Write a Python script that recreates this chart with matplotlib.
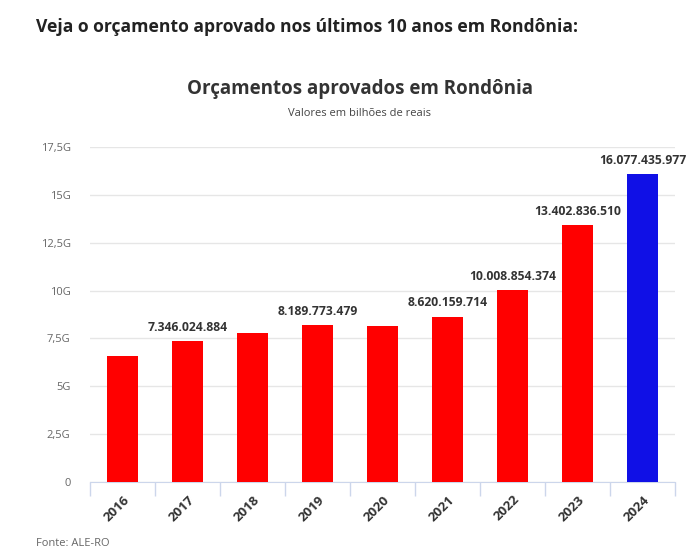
import matplotlib.pyplot as plt
import numpy as np

plt.rcParams['font.family'] = ['Open Sans', 'DejaVu Sans']

# dados (bilhões de reais)
anos = ['2016', '2017', '2018', '2019', '2020', '2021', '2022', '2023', '2024']
valores = [6.58, 7.346024884, 7.78, 8.189773479, 8.16, 8.620159714,
           10.008854374, 13.402836510, 16.077435977]
rotulos = ['', '7.346.024.884', '', '8.189.773.479', '', '8.620.159.714',
           '10.008.854.374', '13.402.836.510', '16.077.435.977']
cores = ['#ff0000'] * 8 + ['#1010e6']
yticks = [0, 2.5, 5, 7.5, 10, 12.5, 15, 17.5]
ytick_labels = ['0', '2,5G', '5G', '7,5G', '10G', '12,5G', '15G', '17,5G']

fig = plt.figure(figsize=(6.91, 5.5), dpi=100)
ax = fig.add_axes([90 / 691, 68 / 550, 585 / 691, 335 / 550])

x = np.arange(len(anos))
ax.bar(x, valores, width=0.48, color=cores, zorder=3)

for xi, v, r in zip(x, valores, rotulos):
    if r:
        ax.text(xi, v + 0.4, r, ha='center', va='bottom', fontsize=8.7,
                fontweight='bold', color='#333333', zorder=4)

ax.set_xlim(-0.5, len(anos) - 0.5)
ax.set_ylim(0, 17.5)
ax.set_yticks(yticks)
ax.set_yticklabels(ytick_labels, color='#666666', fontsize=8)
ax.tick_params(axis='y', length=0, pad=14)
ax.yaxis.grid(True, color='#e6e6e6', linewidth=1, zorder=0)

ax.set_xticks(x)
ax.set_xticklabels(anos, rotation=45, ha='right', rotation_mode='anchor',
                   fontsize=9.5, fontweight='bold', color='#333333')
ax.tick_params(axis='x', length=0, pad=8)
# marcas entre categorias
ax.set_xticks(np.arange(-0.5, len(anos)), minor=True)
ax.tick_params(axis='x', which='minor', length=10, color='#ccd6eb', width=1)

for s in ['top', 'right', 'left']:
    ax.spines[s].set_visible(False)
ax.spines['bottom'].set_color('#ccd6eb')

fig.text(36 / 691, 1 - 27 / 550, 'Veja o orçamento aprovado nos últimos 10 anos em Rondônia:',
         fontsize=12.6, fontweight='bold', color='#222222', va='center', ha='left')
fig.text(360 / 691, 1 - 89 / 550, 'Orçamentos aprovados em Rondônia',
         fontsize=13.5, fontweight='bold', color='#333333', va='center', ha='center')
fig.text(360 / 691, 1 - 114 / 550, 'Valores em bilhões de reais',
         fontsize=8, color='#444444', va='center', ha='center')
fig.text(36 / 691, 1 - 543 / 550, 'Fonte: ALE-RO',
         fontsize=8, color='#666666', va='center', ha='left')

fig.savefig('out.png', dpi=100)
